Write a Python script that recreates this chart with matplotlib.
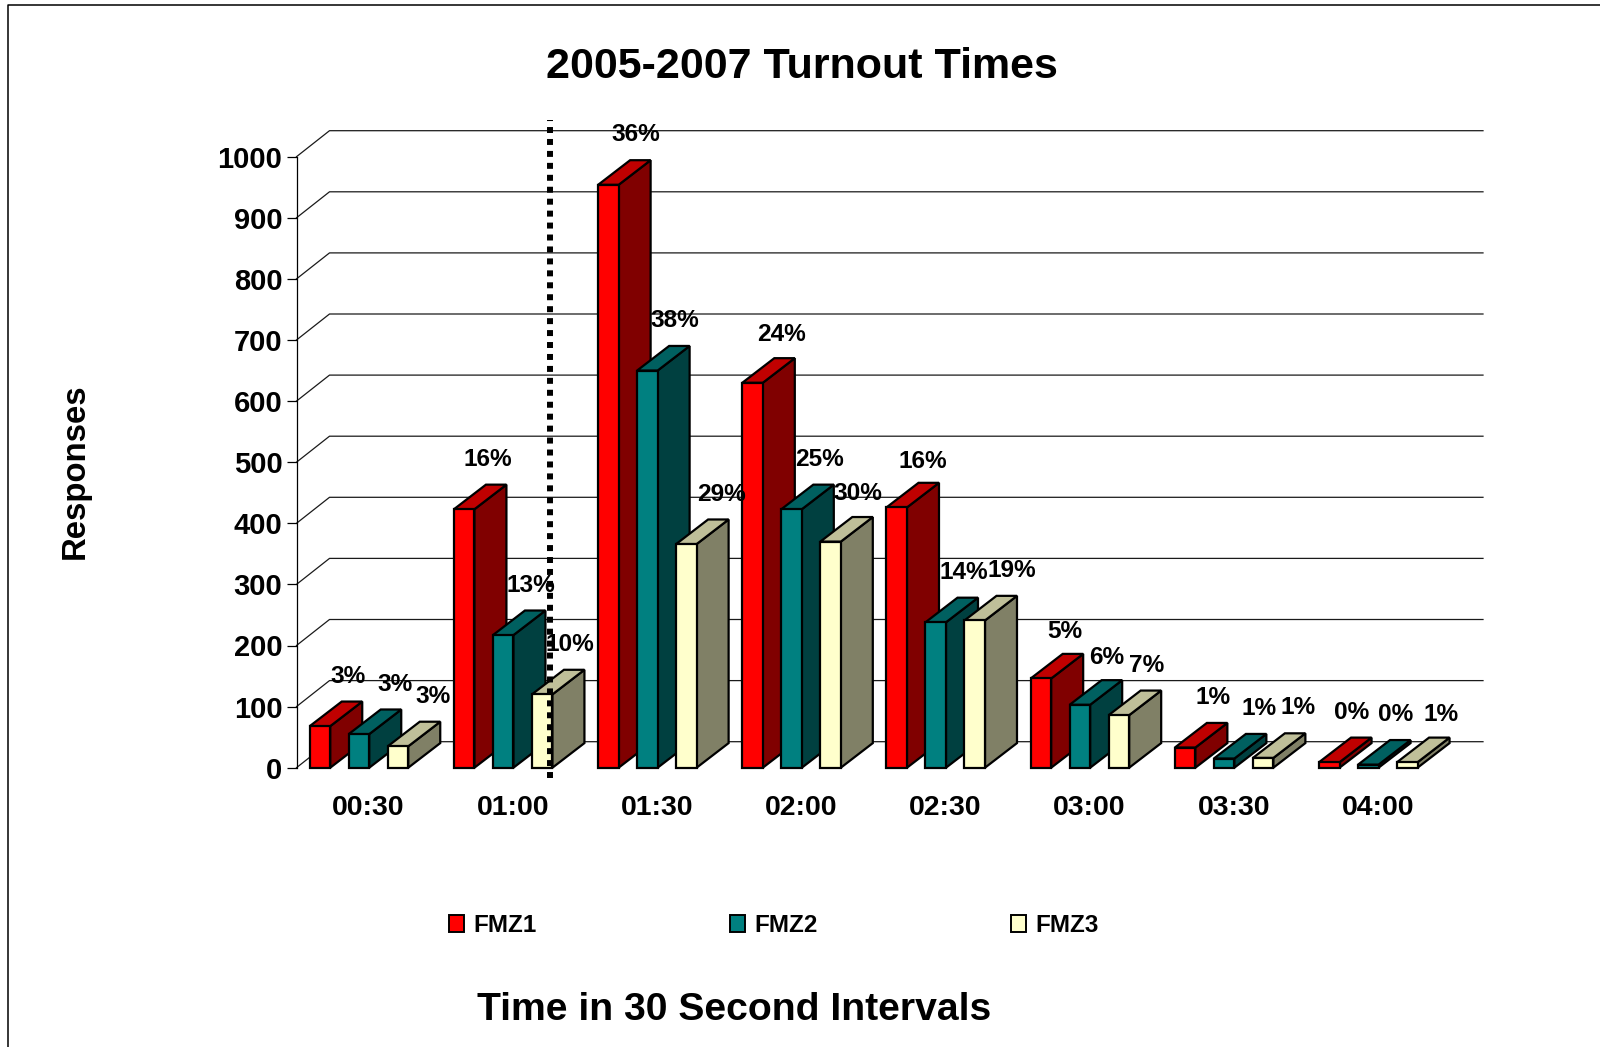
import matplotlib
matplotlib.use('Agg')
import matplotlib.pyplot as plt
from matplotlib.lines import Line2D
from matplotlib.patches import Patch

plt.rcParams['font.family'] = ['Liberation Sans', 'DejaVu Sans']
plt.rcParams['font.weight'] = 'bold'

#values
categories = ['00:30', '01:00', '01:30', '02:00', '02:30', '03:00', '03:30', '04:00']
fmz1 = [68, 423, 954, 630, 426, 146, 33, 9]
fmz2 = [55, 217, 650, 423, 238, 103, 15, 5]
fmz3 = [35, 120, 366, 370, 241, 86, 16, 9]
fmz1_pct = ['3%', '16%', '36%', '24%', '16%', '5%', '1%', '0%']
fmz2_pct = ['3%', '13%', '38%', '25%', '14%', '6%', '1%', '0%']
fmz3_pct = ['3%', '10%', '29%', '30%', '19%', '7%', '1%', '1%']
y_ticks = [0, 100, 200, 300, 400, 500, 600, 700, 800, 900, 1000]
series_names = ['FMZ1', 'FMZ2', 'FMZ3']
cutoff_x = 1.256

W, H = 1600, 1047

# front / top / side shades of each series
shades = [('#FF0000', '#C00000', '#800000'),
          ('#008080', '#006060', '#004040'),
          ('#FFFFCC', '#BFBF99', '#808066')]

# labels that sit off the regular spot, (series, category): points
label_nudge = {(1, 0): (6, 0), (2, 0): (5, 0), (2, 2): (5, 0), (2, 3): (0, -1), (2, 4): (7, 0),
               (1, 6): (5, 0), (2, 6): (5, 0), (2, 7): (4, -2), (0, 1): (-3, 0), (0, 5): (-3, -2),
               (0, 7): (-4, 0), (0, 4): (-1, -3), (1, 5): (-1, -2), (0, 3): (1, -1)}

fig = plt.figure(figsize=(W / 100, H / 100), dpi=100)

# axes box = the front plane of the fake 3D chart
left, right, top, bottom = 296.5, 1450.0, 156.7, 767.7
ax = fig.add_axes([left / W, 1 - bottom / H, (right - left) / W, (bottom - top) / H])
ax.set_xlim(-0.5, 7.5)
ax.set_ylim(0, 1000)
ax.patch.set_visible(False)
for s in ['top', 'right', 'bottom']:
    ax.spines[s].set_visible(False)
ax.spines['left'].set_linewidth(0.9)

x_per_px = 8 / (right - left)
y_per_px = 1000 / (bottom - top)

# wall depth and bar depth
wall_dx, wall_dy = 33 * x_per_px, 26 * y_per_px
bar_dx, bar_dy = 32 * x_per_px, 24.6 * y_per_px
bar_w = 20.5 * x_per_px
bar_step = 39 * x_per_px
group_shift = -9.6 * x_per_px

for v in y_ticks:
    ax.plot([-0.5, -0.5 + wall_dx, 7.5 + wall_dx], [v, v + wall_dy, v + wall_dy],
            color='#1a1a1a', lw=0.9, clip_on=False, zorder=1)

z = 2
for i, cat in enumerate(categories):
    for j, vals in enumerate([fmz1, fmz2, fmz3]):
        v = vals[i]
        x0 = i + group_shift + (j - 1) * bar_step - bar_w / 2
        x1 = x0 + bar_w
        front, roof, side = shades[j]
        ax.fill([x1, x1 + bar_dx, x1 + bar_dx, x1], [0, bar_dy, v + bar_dy, v],
                facecolor=side, edgecolor='black', lw=1.6, clip_on=False, zorder=z)
        ax.fill([x0, x1, x1 + bar_dx, x0 + bar_dx], [v, v, v + bar_dy, v + bar_dy],
                facecolor=roof, edgecolor='black', lw=1.6, clip_on=False, zorder=z)
        ax.bar(x0, v, width=bar_w, align='edge', color=front, edgecolor='black',
               lw=1.6, clip_on=False, zorder=z)
        z += 1

# dotted cutoff line goes over the bars
ax.plot([cutoff_x, cutoff_x], [-17, 1060], color='black', lw=4.3, linestyle=(0, (1, 1)),
        dash_capstyle='butt', clip_on=False, zorder=z)

for j, (vals, pcts) in enumerate(zip([fmz1, fmz2, fmz3], [fmz1_pct, fmz2_pct, fmz3_pct])):
    for i, v in enumerate(vals):
        nx, ny = label_nudge.get((j, i), (0, 0))
        ax.annotate(pcts[i], (i + group_shift + (j - 1) * bar_step, v), xytext=(20 + nx, 36 + ny),
                    textcoords='offset points', ha='center', va='center', fontsize=17.6,
                    annotation_clip=False, zorder=z + 1)

ax.set_xticks(range(len(categories)))
ax.set_xticklabels(categories, fontsize=20.4)
ax.tick_params(axis='x', length=0, pad=19.7)
ax.set_yticks(y_ticks)
ax.tick_params(axis='y', length=7.2, width=0.9, labelsize=21, pad=3)

ax.set_ylabel('Responses', fontsize=23.7, fontweight='bold')
ax.yaxis.set_label_coords(91 / W, 1 - 471.5 / H, transform=fig.transFigure)
ax.set_xlabel('Time in 30 Second Intervals', fontsize=28.2, fontweight='bold', va='center')
ax.xaxis.set_label_coords(733.7 / W, 1 - 1010 / H, transform=fig.transFigure)
fig.suptitle('2005-2007 Turnout Times', x=802 / W, y=1 - 67.3 / H, fontsize=31,
             fontweight='bold', va='center')

handles = [Patch(facecolor=shades[k][0], edgecolor='black', lw=1.4) for k in range(3)]
fig.legend(handles, series_names, ncol=3, loc='center left', bbox_to_anchor=(449 / W, 1 - 925.5 / H),
           frameon=False, fontsize=17.5, handlelength=0.62, handleheight=0.66, handletextpad=0.38,
           columnspacing=7.95, borderpad=0, borderaxespad=0)

# page border, only the left and top edges show
fig.add_artist(Line2D([7.5 / W, 7.5 / W, 1], [0, 1 - 5 / H, 1 - 5 / H], color='black', lw=1.1))

fig.savefig('out.png', dpi=100)
